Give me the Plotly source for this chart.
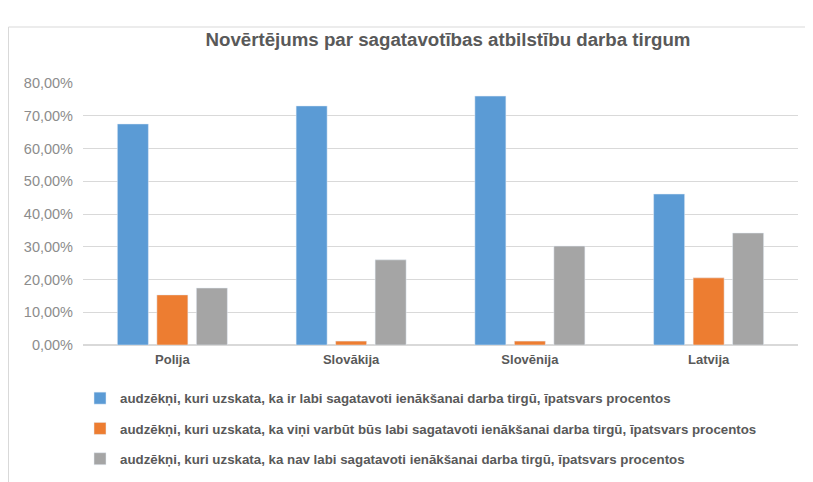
import plotly.graph_objects as go

# Countries on the x axis
countries = ["Polija", "Slovākija", "Slovēnija", "Latvija"]

# Series names (legend)
name_ready = "audzēkņi, kuri uzskata, ka ir labi sagatavoti ienākšanai darba tirgū, īpatsvars procentos"
name_maybe = "audzēkņi, kuri uzskata, ka viņi varbūt būs labi sagatavoti ienākšanai darba tirgū, īpatsvars procentos"
name_not = "audzēkņi, kuri uzskata, ka nav labi sagatavoti ienākšanai darba tirgū, īpatsvars procentos"

# Shares (fractions of 1)
ready = [0.675, 0.730, 0.760, 0.461]
maybe = [0.153, 0.012, 0.012, 0.205]
not_ready = [0.174, 0.260, 0.302, 0.342]

colors = ["#5B9BD5", "#ED7D31", "#A5A5A5"]
grey_text = "#595959"

fig = go.Figure()
for i, (name, vals) in enumerate([(name_ready, ready), (name_maybe, maybe), (name_not, not_ready)]):
    fig.add_trace(go.Bar(x=countries, y=vals, name="<b>" + name + "</b>", marker_color=colors[i],
                         legendgroup=str(i), hoverinfo="y"))

# plot area in px (page has an 8px body margin)
L, T, W, H = 75, 75, 715, 262

# thin frame of the original chart area
fig.add_shape(type="rect", xref="paper", yref="paper",
              x0=(0.5 - L) / W, x1=1.1, y0=-0.6, y1=1 + (T - 19) / H,
              line=dict(color="#d9d9d9", width=1), layer="below")

fig.update_layout(
    width=813, height=482,
    margin=dict(l=L, r=813 - L - W, t=T, b=482 - T - H, autoexpand=False),
    paper_bgcolor="white", plot_bgcolor="white",
    separators=", ",
    barmode="group", bargap=0.337, bargroupgap=0.215,
    title=dict(text="<b>Novērtējums par sagatavotības atbilstību darba tirgum</b>",
               x=440 / 813, xanchor="center", y=1 - 31 / 482, yanchor="middle",
               font=dict(family="Liberation Sans", size=18.7, color=grey_text)),
    font=dict(family="Liberation Sans", color=grey_text),
    legend=dict(orientation="v", xref="container", yref="container",
                x=72 / 813, xanchor="left", y=1 - 375 / 482, yanchor="top",
                font=dict(size=13.3, color=grey_text, family="Liberation Sans"),
                tracegroupgap=10, itemwidth=30, bgcolor="rgba(0,0,0,0)"),
    showlegend=True,
)
fig.update_xaxes(showgrid=False, showline=False, ticks="", automargin=False,
                 ticklabelstandoff=5,
                 tickvals=countries, ticktext=["<b>" + c + "</b>" for c in countries],
                 tickfont=dict(size=13, color=grey_text, family="Liberation Sans"))
fig.update_yaxes(range=[0, 0.8], dtick=0.1, tickformat=".2%", automargin=False,
                 gridcolor="#d9d9d9", gridwidth=1, zeroline=True, zerolinecolor="#d9d9d9",
                 showline=False, ticks="", ticklen=0, ticklabelstandoff=9,
                 tickfont=dict(size=14.5, color="#8c8c8c", family="Liberation Sans"))

fig.write_html("out.html")
